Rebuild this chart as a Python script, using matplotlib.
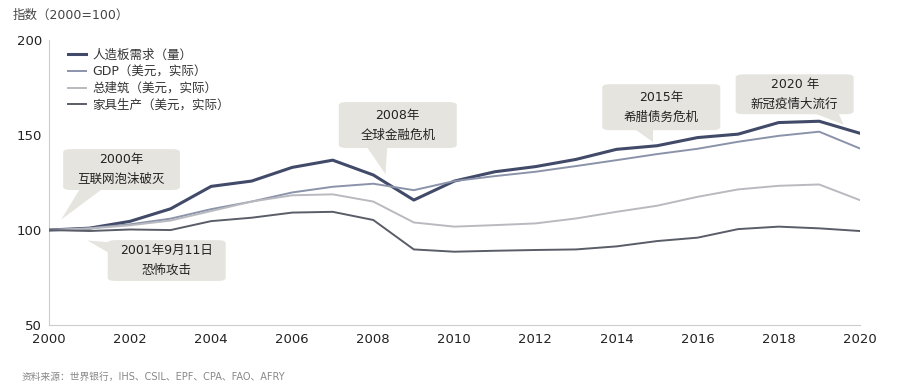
import matplotlib.pyplot as plt
from matplotlib.patches import FancyBboxPatch, Polygon

plt.rcParams['font.family'] = ['DejaVu Sans', 'Noto Sans CJK SC']

# Data (index, 2000=100)
years = list(range(2000, 2021))
panel = [100, 101, 104.6, 111.2, 123, 125.8, 133, 136.8, 129, 115.8, 125.8,
         130.7, 133.4, 137.2, 142.5, 144.4, 148.7, 150.5, 156.6, 157.3, 151]
gdp = [100, 101, 103, 106, 111, 115, 119.8, 122.8, 124.4, 121, 125.8,
       128.4, 130.7, 133.7, 136.8, 140, 142.8, 146.5, 149.6, 151.8, 143]
construction = [100, 100.8, 102.5, 105, 110, 115, 118.3, 118.8, 115, 104, 101.8,
                102.6, 103.5, 106.1, 109.6, 112.8, 117.5, 121.4, 123.3, 124, 115.8]
furniture = [100, 99.5, 100.3, 100, 104.7, 106.5, 109.2, 109.6, 105.3, 89.8, 88.6,
             89.1, 89.5, 89.8, 91.4, 94.2, 96, 100.5, 101.8, 100.9, 99.5]

labels = ['人造板需求（量）', 'GDP（美元，实际）', '总建筑（美元，实际）', '家具生产（美元，实际）']
colors = ['#414a68', '#8b93aa', '#b9babf', '#595d68']
widths = [2.2, 1.4, 1.4, 1.4]

# callouts: text, box (x0, y0, x1, y1), pointer triangle
callouts = [
    ('2000年\n互联网泡沫破灭', (2000.35, 121.1, 2003.23, 142.6),
     [(2000.8, 123), (2001.4, 123), (2000.3, 105.5)]),
    ('2001年9月11日\n恐怖攻击', (2001.45, 73.2, 2004.36, 94.7),
     [(2001.8, 93), (2001.8, 84), (2000.95, 94.5)]),
    ('2008年\n全球金融危机', (2007.15, 143.2, 2010.06, 167.4),
     [(2007.8, 145), (2008.35, 145), (2008.3, 129.5)]),
    ('2015年\n希腊债务危机', (2013.65, 152.6, 2016.56, 176.8),
     [(2014.4, 154), (2014.9, 154), (2014.9, 146.5)]),
    ('2020 年\n新冠疫情大流行', (2016.94, 161, 2019.85, 182),
     [(2018.7, 163), (2019.45, 163), (2019.6, 155.5)]),
]

fig = plt.figure(figsize=(9.14, 3.86), dpi=100)
ax = fig.add_axes([0.0536, 0.158, 0.887, 0.738])

for vals, lab, c, w in zip([panel, gdp, construction, furniture], labels, colors, widths):
    ax.plot(years, vals, color=c, lw=w, label=lab, zorder=3)

box_color = '#e6e4df'
for text, (x0, y0, x1, y1), tri in callouts:
    ax.add_patch(FancyBboxPatch((x0, y0), x1 - x0, y1 - y0,
                                boxstyle='round,pad=0,rounding_size=0.2',
                                mutation_aspect=8, fc=box_color, ec='none', zorder=4))
    ax.add_patch(Polygon(tri, closed=True, fc=box_color, ec='none', zorder=4))
    ax.text((x0 + x1) / 2, (y0 + y1) / 2, text, ha='center', va='center',
            fontsize=9, color='#222222', linespacing=1.7, zorder=5)

ax.set_xlim(2000, 2020)
ax.set_ylim(50, 200)
ax.set_xticks(range(2000, 2021, 2))
ax.set_yticks([50, 100, 150, 200])
ax.tick_params(length=0, labelsize=9.5, colors='#222222')
ax.tick_params(axis='x', pad=5.5)
ax.tick_params(axis='y', pad=5)
for s in ['top', 'right']:
    ax.spines[s].set_visible(False)
for s in ['left', 'bottom']:
    ax.spines[s].set_color('#cccccc')

ax.legend(loc='upper left', bbox_to_anchor=(0.01, 1.01), frameon=False, fontsize=9,
          handlelength=1.4, handletextpad=0.5, labelspacing=0.3, labelcolor='#333333')

fig.text(0.014, 0.952, '指数（2000=100）', fontsize=9, color='#444444')
fig.text(0.024, 0.017, '资料来源：世界银行，IHS、CSIL、EPF、CPA、FAO、AFRY', fontsize=7, color='#888888')

fig.savefig('out.png', dpi=100)
